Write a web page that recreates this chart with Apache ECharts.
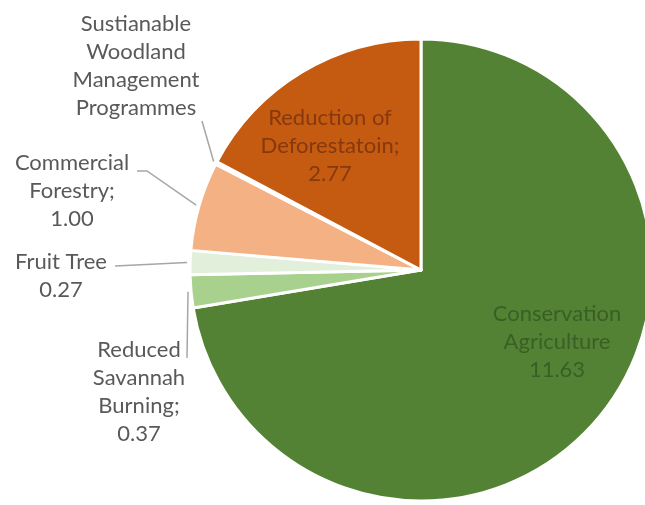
<!DOCTYPE html>
<html>
<head>
<meta charset="utf-8">
<script src="https://cdn.jsdelivr.net/npm/echarts@6/dist/echarts.min.js"></script>
<style>
html,body{margin:0;padding:0;background:#fff;}
#chart{width:645px;height:505px;}
</style>
</head>
<body>
<div id="chart"></div>
<script>
// Data
const categories = [
  'Conservation Agriculture',
  'Reduced Savannah Burning',
  'Fruit Tree',
  'Commercial Forestry',
  'Sustianable Woodland Management Programmes',
  'Reduction of Deforestatoin'
];
const values = [11.63, 0.37, 0.27, 1.00, 0.03, 2.77];
const labelTexts = [
  'Conservation\nAgriculture\n11.63',
  'Reduced\nSavannah\nBurning;\n0.37',
  'Fruit Tree\n0.27',
  'Commercial\nForestry;\n1.00',
  'Sustianable\nWoodland\nManagement\nProgrammes',
  'Reduction of\nDeforestatoin;\n2.77'
];

// Styles / layout
const CENTER = [421, 270];
const RADIUS = 231;
const colors = ['#548235', '#a9d18e', '#e2efda', '#f4b183', '#fbe5d6', '#c55a11'];
const insideLabelColors = ['#3a5f24', null, null, null, null, '#86390c'];
const labelPos = [
  {x: 557, y: 300, inside: true},
  {x: 139, y: 336},
  {x: 61, y: 248},
  {x: 72, y: 149},
  {x: 136, y: 10},
  {x: 330, y: 104, inside: true}
];
// leader line start / elbow points on the label side (layout only)
const leaderStart = [
  null,
  [[187, 358]],
  [[115, 266]],
  [[137, 171], [147, 171]],
  [[202, 121]],
  null
];

const FONT = 'Lato, "Open Sans", sans-serif';

const data = categories.map((name, i) => ({
  name: name,
  value: values[i],
  itemStyle: {color: colors[i]},
  label: {
    show: true,
    position: labelPos[i].inside ? 'inside' : 'outside',
    formatter: () => labelTexts[i],
    color: labelPos[i].inside ? insideLabelColors[i] : '#595959',
    fontFamily: FONT,
    fontSize: 22,
    lineHeight: 28,
    align: 'center'
  },
  labelLine: {show: false}
}));

// anchor points on the slice edges, derived from the values
const total = values.reduce((a, b) => a + b, 0);
let cum = 0;
const graphics = [];
values.forEach((v, i) => {
  const mid = (cum + v / 2) / total * 2 * Math.PI;
  cum += v;
  if (!leaderStart[i]) return;
  const r = RADIUS + 3;
  const ax = CENTER[0] + r * Math.sin(mid);
  const ay = CENTER[1] - r * Math.cos(mid);
  const pts = leaderStart[i].concat([[ax, ay]]);
  graphics.push({
    type: 'polyline',
    shape: {points: pts},
    style: {stroke: '#a6a6a6', lineWidth: 1.5, fill: null},
    silent: true
  });
});

const chart = echarts.init(document.getElementById('chart'), null, {renderer: 'canvas'});
chart.setOption({
  animation: false,
  backgroundColor: '#ffffff',
  graphic: graphics,
  series: [{
    type: 'pie',
    center: CENTER,
    radius: [0, RADIUS],
    startAngle: 90,
    clockwise: true,
    avoidLabelOverlap: false,
    itemStyle: {borderColor: '#ffffff', borderWidth: 3},
    emphasis: {disabled: true},
    data: data,
    labelLayout: function (params) {
      const p = labelPos[params.dataIndex];
      return {x: p.x, y: p.y, align: 'center', verticalAlign: 'top'};
    }
  }]
});
</script>
</body>
</html>
